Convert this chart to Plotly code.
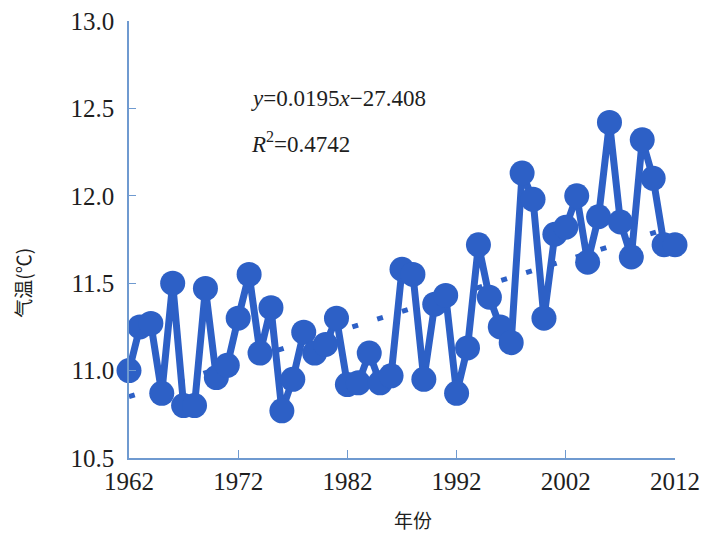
import plotly.graph_objects as go

years = list(range(1962, 2013))
temps = [11.00, 11.25, 11.27, 10.87, 11.50, 10.80, 10.80, 11.47, 10.96, 11.03,
         11.30, 11.55, 11.10, 11.36, 10.77, 10.95, 11.22, 11.10, 11.15, 11.30,
         10.92, 10.93, 11.10, 10.93, 10.97, 11.58, 11.55, 10.95, 11.38, 11.43,
         10.87, 11.13, 11.72, 11.42, 11.25, 11.16, 12.13, 11.98, 11.30, 11.78,
         11.82, 12.00, 11.62, 11.88, 12.42, 11.85, 11.65, 12.32, 12.10, 11.72,
         11.72]
slope = 0.0195
intercept = -27.408
x_ticks = [1962, 1972, 1982, 1992, 2002, 2012]
y_ticks = [10.5, 11.0, 11.5, 12.0, 12.5, 13.0]

blue = "#2d60c6"
axis_col = "#6f9ad0"

trend_x = [years[0], years[-1]]
trend_y = [slope * v + intercept for v in trend_x]

fig = go.Figure()
fig.add_trace(go.Scatter(x=trend_x, y=trend_y, mode="lines",
                         line=dict(color=blue, width=5, dash="6px,20px"),
                         showlegend=False, hoverinfo="skip"))
fig.add_trace(go.Scatter(x=years, y=temps, mode="lines+markers",
                         line=dict(color=blue, width=7),
                         marker=dict(color=blue, size=25),
                         cliponaxis=False, showlegend=False))

tickfont = dict(family="Liberation Serif, Times New Roman, serif", size=25, color="#1e1e1e")
fig.update_xaxes(range=[1962, 2012], tickvals=x_ticks, ticktext=[str(v) for v in x_ticks],
                 ticks="inside", ticklen=8, tickcolor=axis_col, tickwidth=1.2,
                 showline=True, linecolor=axis_col, linewidth=1.5,
                 showgrid=False, zeroline=False, tickfont=tickfont, automargin=False)
fig.update_yaxes(range=[10.5, 13.0], tickvals=y_ticks, ticktext=[f"{v:.1f}" for v in y_ticks],
                 ticks="inside", ticklen=7, tickcolor=axis_col, tickwidth=1.2,
                 showline=True, linecolor=axis_col, linewidth=1.5,
                 showgrid=False, zeroline=False, tickfont=tickfont,
                 ticklabelstandoff=8, automargin=False)

fig.add_annotation(xref="paper", yref="paper", x=-0.195, y=0.40, text="气温(℃)",
                   textangle=-90, showarrow=False, xanchor="center", yanchor="middle",
                   font=dict(family="Noto Sans CJK SC", size=19, color="#1e1e1e"))
fig.add_annotation(xref="paper", yref="paper", x=0.52, y=-0.14, text="年份",
                   showarrow=False, xanchor="center", yanchor="middle",
                   font=dict(family="Noto Sans CJK SC", size=19, color="#1e1e1e"))
fig.add_annotation(xref="paper", yref="paper", x=0.22, y=0.855, xanchor="left",
                   text="<i>y</i>=0.0195<i>x</i>−27.408", showarrow=False,
                   font=dict(family="Liberation Serif, Times New Roman, serif", size=23, color="#1e1e1e"))
fig.add_annotation(xref="paper", yref="paper", x=0.22, y=0.76, xanchor="left",
                   text="<i>R</i><sup>2</sup>=0.4742", showarrow=False,
                   font=dict(family="Liberation Serif, Times New Roman, serif", size=23, color="#1e1e1e"))

fig.update_layout(width=704, height=533, margin=dict(l=129, r=29, t=21, b=75, autoexpand=False),
                  paper_bgcolor="white", plot_bgcolor="white")
fig.write_html("out.html", config={"displayModeBar": False},
               post_script="document.body.style.margin='0';document.body.style.overflow='hidden';")
